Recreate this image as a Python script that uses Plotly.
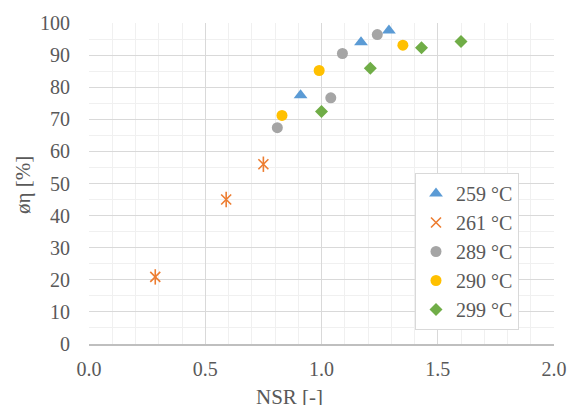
import plotly.graph_objects as go

nsr_259 = [0.91, 1.17, 1.29]
eta_259 = [77.5, 94.0, 97.7]

nsr_261 = [0.285, 0.59, 0.75]
eta_261 = [20.9, 45.0, 56.0]

nsr_289 = [0.81, 1.04, 1.09, 1.24]
eta_289 = [67.4, 76.7, 90.5, 96.4]

nsr_290 = [0.83, 0.99, 1.35]
eta_290 = [71.2, 85.2, 93.1]

nsr_299 = [1.0, 1.21, 1.43, 1.60]
eta_299 = [72.4, 85.9, 92.3, 94.2]

names = ["259 °C", "261 °C", "289 °C", "290 °C", "299 °C"]

FONT = "Liberation Serif"
TXT = "#595959"

fig = go.Figure()
fig.add_trace(go.Scatter(x=nsr_259, y=eta_259, mode="markers", name=names[0],
                         marker=dict(symbol="triangle-up", size=12, color="#5B9BD5")))
fig.add_trace(go.Scatter(x=nsr_261, y=eta_261, mode="markers", name=names[1],
                         marker=dict(symbol="x-thin-open", size=10, color="#ED7D31",
                                     line=dict(width=1.6, color="#ED7D31"))))
fig.add_trace(go.Scatter(x=nsr_261, y=eta_261, mode="markers", showlegend=False,
                         hoverinfo="skip",
                         marker=dict(symbol="line-ns-open", size=11, color="#ED7D31",
                                     line=dict(width=1.6, color="#ED7D31"))))
fig.add_trace(go.Scatter(x=nsr_289, y=eta_289, mode="markers", name=names[2],
                         marker=dict(symbol="circle", size=11, color="#A5A5A5")))
fig.add_trace(go.Scatter(x=nsr_290, y=eta_290, mode="markers", name=names[3],
                         marker=dict(symbol="circle", size=11, color="#FFC000")))
fig.add_trace(go.Scatter(x=nsr_299, y=eta_299, mode="markers", name=names[4],
                         marker=dict(symbol="diamond", size=10, color="#70AD47")))

fig.update_layout(
    width=570, height=405,
    margin=dict(l=89, r=16, t=23, b=61),
    paper_bgcolor="white", plot_bgcolor="white",
    font=dict(family=FONT, size=20, color=TXT),
    showlegend=True,
    legend=dict(x=(519 - 89) / 465, y=(344 - 173) / 321, xanchor="right", yanchor="top",
                bgcolor="white", bordercolor="#d9d9d9", borderwidth=1,
                font=dict(family=FONT, size=20, color=TXT),
                itemwidth=30, tracegroupgap=0),
    xaxis=dict(range=[0, 2], tickvals=[0, 0.5, 1.0, 1.5, 2.0],
               ticktext=["0.0", "0.5", "1.0", "1.5", "2.0"],
               showgrid=True, gridcolor="#d9d9d9", gridwidth=1,
               minor=dict(dtick=0.1, showgrid=True, gridcolor="#f0f0f0", gridwidth=1),
               showline=True, linecolor="#bfbfbf", linewidth=1.5,
               zeroline=False, ticks="", ticklabelstandoff=6, automargin=False,
               tickfont=dict(family=FONT, size=20, color=TXT)),
    yaxis=dict(range=[0, 100], dtick=10,
               showgrid=True, gridcolor="#d9d9d9", gridwidth=1,
               minor=dict(dtick=5, showgrid=True, gridcolor="#f0f0f0", gridwidth=1),
               showline=False, zeroline=False, ticks="", ticklabelstandoff=18, automargin=False,
               tickfont=dict(family=FONT, size=20, color=TXT)),
)

fig.add_annotation(text="NSR [-]", xref="paper", yref="paper", x=(289 - 89) / 465, y=-(397 - 344) / 321,
                   xanchor="center", yanchor="middle", showarrow=False,
                   font=dict(family=FONT, size=21, color=TXT))
fig.add_annotation(text="øη [%]", xref="paper", yref="paper", x=-(89 - 23) / 465, y=(344 - 185) / 321,
                   xanchor="center", yanchor="middle", showarrow=False, textangle=-90,
                   font=dict(family=FONT, size=21, color=TXT))

fig.write_html("out.html", config={"displayModeBar": False},
               post_script="document.body.style.margin='0';document.body.style.overflow='hidden';")
